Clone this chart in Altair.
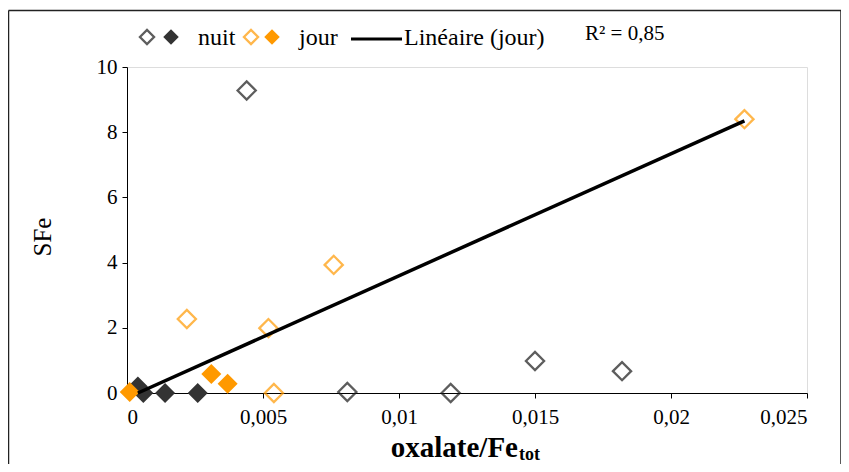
import altair as alt
import pandas as pd

# ---- data ----
nuit_open_x = [0.0044, 0.0081, 0.0119, 0.0150, 0.0182]
nuit_open_y = [9.28, 0.03, 0.0, 0.98, 0.67]
nuit_fill_x = [0.0004, 0.0006, 0.0014, 0.0026]
nuit_fill_y = [0.2, 0.0, 0.0, 0.0]
jour_open_x = [0.0022, 0.0052, 0.0076, 0.0054, 0.0227]
jour_open_y = [2.27, 1.99, 3.93, 0.0, 8.40]
jour_fill_x = [0.0001, 0.0031, 0.0037]
jour_fill_y = [0.03, 0.58, 0.28]
trend_x = [0.0004, 0.0227]
trend_y = [0.0, 8.35]

x_ticks = [0, 0.005, 0.01, 0.015, 0.02, 0.025]
y_ticks = [0, 2, 4, 6, 8, 10]

ORANGE = "#FF9900"
DARK = "#333333"
OUTLINE = "#1a1a1a"
FONT = "Liberation Serif"


def df(xs, ys):
    return pd.DataFrame({"x": xs, "y": ys})


one = pd.DataFrame({"a": [0]})

xscale = alt.Scale(domain=[0, 0.025], nice=False, zero=False)
yscale = alt.Scale(domain=[0, 10], nice=False)
X = alt.X("x:Q", scale=xscale, title=None,
          axis=alt.Axis(values=x_ticks, grid=False, domainColor="black", tickColor="black",
                        tickSize=5, labelFont=FONT, labelFontSize=21, labelColor="black",
                        labelPadding=8,
                        labelExpr="replace(format(datum.value, '~g'), '.', ',')"))
Y = alt.Y("y:Q", scale=yscale, title=None,
          axis=alt.Axis(values=y_ticks, grid=False, domainColor="black", tickColor="black",
                        tickSize=5, labelFont=FONT, labelFontSize=21, labelColor="black",
                        labelPadding=5, format="d"))

nuit_open = alt.Chart(df(nuit_open_x, nuit_open_y)).mark_point(
    shape="diamond", size=330, filled=False, stroke=OUTLINE, strokeWidth=2.3, clip=False
).encode(x=X, y=Y)
nuit_fill = alt.Chart(df(nuit_fill_x, nuit_fill_y)).mark_point(
    shape="diamond", size=400, filled=True, color=DARK, opacity=1, clip=False
).encode(x=X, y=Y)
jour_open = alt.Chart(df(jour_open_x, jour_open_y)).mark_point(
    shape="diamond", size=330, filled=False, stroke=ORANGE, strokeWidth=2.3, clip=False
).encode(x=X, y=Y)
jour_fill = alt.Chart(df(jour_fill_x, jour_fill_y)).mark_point(
    shape="diamond", size=400, filled=True, color=ORANGE, opacity=1, clip=False
).encode(x=X, y=Y)
trend = alt.Chart(df(trend_x, trend_y)).mark_line(
    color="black", strokeWidth=3.5, clip=False
).encode(x=X, y=Y)

# ---- titles ----
ytitle = alt.Chart(one).mark_text(
    text="SFe", font=FONT, fontSize=25, angle=270, color="black", baseline="middle", align="center"
).encode(x=alt.value(-84), y=alt.value(170))
xtitle_main = alt.Chart(one).mark_text(
    text="oxalate/Fe", font=FONT, fontSize=29, fontWeight="bold", color="black",
    align="right", baseline="alphabetic"
).encode(x=alt.value(391), y=alt.value(390))
xtitle_sub = alt.Chart(one).mark_text(
    text="tot", font=FONT, fontSize=18, fontWeight="bold", color="black",
    align="left", baseline="alphabetic"
).encode(x=alt.value(392), y=alt.value(393))

# ---- legend ----
LY = -30
leg_pts = [
    (20, False, OUTLINE, 200), (44, True, DARK, 240),
    (124, False, ORANGE, 200), (145, True, ORANGE, 240),
]
legend_layers = []
for lx, filled, col, sz in leg_pts:
    if filled:
        m = alt.Chart(one).mark_point(shape="diamond", size=sz, filled=True, color=col, opacity=1)
    else:
        m = alt.Chart(one).mark_point(shape="diamond", size=sz, filled=False, stroke=col, strokeWidth=2.3)
    legend_layers.append(m.encode(x=alt.value(lx), y=alt.value(LY)))

for txt, lx, ly, fs in [("nuit", 71, -22, 24), ("jour", 172, -22, 24),
                        ("Linéaire (jour)", 277, -22, 24), ("R² = 0,85", 458, -27, 21)]:
    legend_layers.append(
        alt.Chart(one).mark_text(text=txt, font=FONT, fontSize=fs, color="black",
                                 align="left", baseline="alphabetic")
        .encode(x=alt.value(lx), y=alt.value(ly)))

legend_layers.append(
    alt.Chart(one).mark_rule(color="black", strokeWidth=3)
    .encode(x=alt.value(224), x2=alt.value(275), y=alt.value(-28)))

# ---- outer frame (left, top, right) ----
FL, FT, FR, FB = -118.5, -56.5, 714, 420
frame = [
    alt.Chart(one).mark_rule(color="#222222", strokeWidth=1.5)
    .encode(x=alt.value(FL), y=alt.value(FT), y2=alt.value(FB)),
    alt.Chart(one).mark_rule(color="#222222", strokeWidth=1.5)
    .encode(x=alt.value(FR), y=alt.value(FT), y2=alt.value(FB)),
    alt.Chart(one).mark_rule(color="#222222", strokeWidth=1.5)
    .encode(x=alt.value(FL), x2=alt.value(FR), y=alt.value(FT)),
]

chart = alt.layer(
    nuit_open, nuit_fill, jour_open, jour_fill, trend,
    ytitle, xtitle_main, xtitle_sub, *legend_layers, *frame
).properties(
    width=680, height=326,
    autosize=alt.AutoSizeParams(type="none"),
    padding={"left": 119, "top": 59, "right": 34, "bottom": 71},
).configure_view(
    stroke="#808080", strokeWidth=1.5
).configure(background="white")

chart.save("out.html", embed_options={"renderer": "svg", "actions": False})
